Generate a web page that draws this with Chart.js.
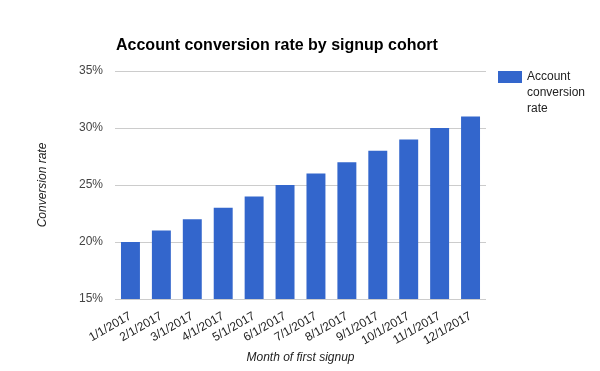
<!DOCTYPE html>
<html lang="en">
<head>
  <meta charset="UTF-8" />
  <title>Account conversion rate by signup cohort</title>
  <script src="https://cdn.jsdelivr.net/npm/chart.js"></script>
  <style>
    html, body { margin: 0; padding: 0; background: #fff; }
    #wrap { width: 600px; height: 371px; position: relative; }
  </style>
</head>
<body>
  <div id="wrap"><canvas id="conversionChart" width="600" height="371"></canvas></div>

  <script>
    const months = ['1/1/2017', '2/1/2017', '3/1/2017', '4/1/2017', '5/1/2017', '6/1/2017',
                    '7/1/2017', '8/1/2017', '9/1/2017', '10/1/2017', '11/1/2017', '12/1/2017'];
    const conversionRate = [20, 21, 22, 23, 24, 25, 26, 27, 28, 29, 30, 31];
    const seriesName = 'Account conversion rate';
    const legendLines = ['Account', 'conversion', 'rate'];
    const chartTitle = 'Account conversion rate by signup cohort';

    const barColor = '#3366cc';

    // title + wrapped legend drawn by hand, Google Charts style
    const extras = {
      id: 'extras',
      afterDraw(chart) {
        const ctx = chart.ctx;
        ctx.save();
        ctx.fillStyle = '#000';
        ctx.font = 'bold 16px Arial, "Liberation Sans", sans-serif';
        ctx.textBaseline = 'middle';
        ctx.textAlign = 'left';
        ctx.fillText(chartTitle, 116, 46);

        ctx.fillStyle = barColor;
        ctx.fillRect(498, 71, 24, 12);
        ctx.fillStyle = '#222';
        ctx.font = '12px Arial, "Liberation Sans", sans-serif';
        legendLines.forEach((line, i) => ctx.fillText(line, 527, 77 + i * 16));
        ctx.restore();
      }
    };

    new Chart(document.getElementById('conversionChart'), {
      type: 'bar',
      data: {
        labels: months,
        datasets: [{
          label: seriesName,
          data: conversionRate,
          backgroundColor: barColor,
          barPercentage: 0.613,
          categoryPercentage: 1
        }]
      },
      options: {
        responsive: false,
        animation: false,
        layout: { padding: { top: 71, right: 114, left: 0, bottom: 0 } },
        plugins: {
          legend: { display: false },
          title: { display: false },
          tooltip: { enabled: false }
        },
        scales: {
          y: {
            min: 15,
            max: 35,
            afterFit(scale) { scale.width = 115; },
            ticks: {
              stepSize: 5,
              padding: 12,
              color: '#444',
              font: { family: 'Arial, "Liberation Sans", sans-serif', size: 12 },
              callback: v => v + '%'
            },
            grid: { color: '#cccccc', drawTicks: false },
            border: { display: false },
            title: {
              display: true,
              text: 'Conversion rate',
              color: '#222',
              padding: { top: 35 },
              font: { family: 'Arial, "Liberation Sans", sans-serif', size: 12, style: 'italic' }
            }
          },
          x: {
            afterFit(scale) { scale.height = 72; },
            ticks: {
              minRotation: 30,
              maxRotation: 30,
              autoSkip: false,
              padding: 2,
              color: '#222',
              font: { family: 'Arial, "Liberation Sans", sans-serif', size: 12 }
            },
            grid: { display: false },
            border: { display: false },
            title: {
              display: true,
              text: 'Month of first signup',
              color: '#222',
              padding: { bottom: 6 },
              font: { family: 'Arial, "Liberation Sans", sans-serif', size: 12, style: 'italic' }
            }
          }
        }
      },
      plugins: [extras]
    });
  </script>
</body>
</html>
